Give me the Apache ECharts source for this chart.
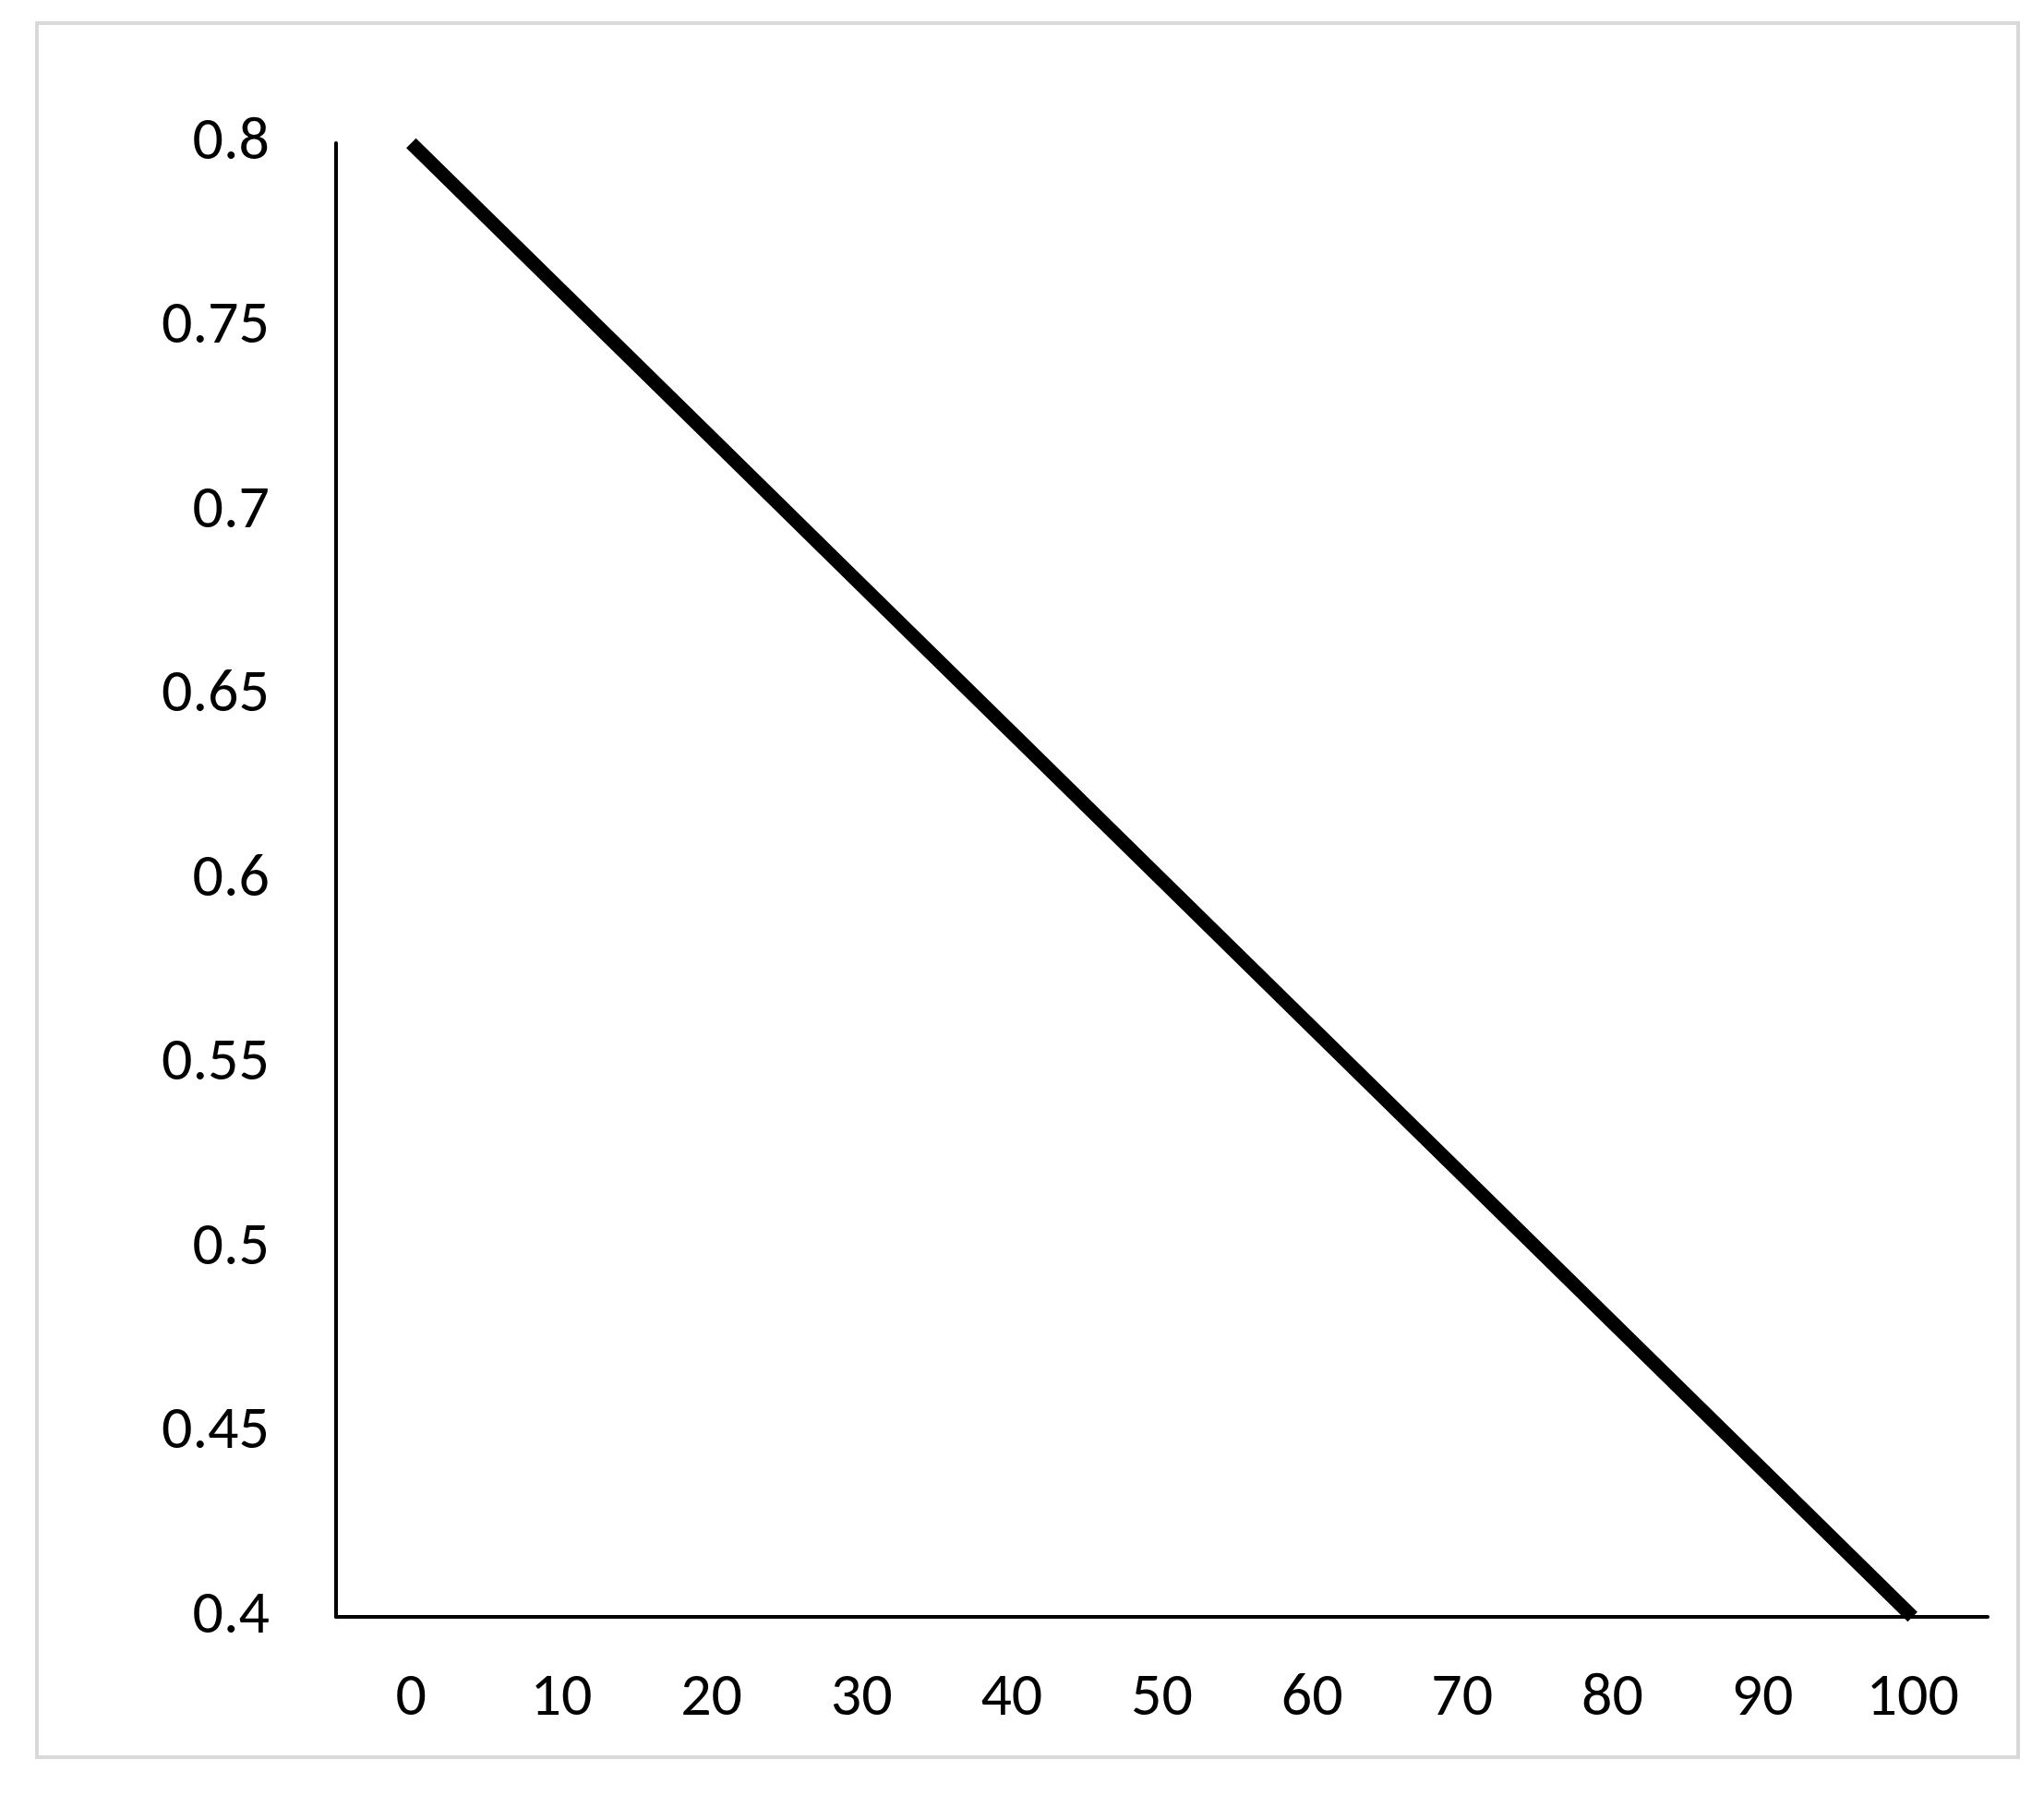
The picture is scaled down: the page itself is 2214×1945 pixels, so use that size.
<!DOCTYPE html>
<html><head><meta charset="utf-8">
<script src="https://cdn.jsdelivr.net/npm/echarts@6/dist/echarts.min.js"></script>
<style>html,body{margin:0;background:#fff}#c{width:2214px;height:1945px}</style>
</head><body><div id="c"></div>
<script>
// values
const xValues = [0, 10, 20, 30, 40, 50, 60, 70, 80, 90, 100];
const yValues = [0.8, 0.76, 0.72, 0.68, 0.64, 0.6, 0.56, 0.52, 0.48, 0.44, 0.4];
const xTicks = [0, 10, 20, 30, 40, 50, 60, 70, 80, 90, 100];

const chart = echarts.init(document.getElementById('c'));
chart.setOption({
    animation: false,
    graphic: [{
        type: 'rect', shape: {x: 40, y: 25, width: 2146, height: 1878},
        style: {fill: 'none', stroke: '#d9d9d9', lineWidth: 4}
    }],
    grid: {left: 364, right: 61, top: 155, bottom: 194},
    xAxis: {
        type: 'value', min: -5, max: 105,
        axisLine: {onZero: false, lineStyle: {color: '#000', width: 4}},
        axisTick: {show: false},
        splitLine: {show: false},
        axisLabel: {customValues: xTicks, fontSize: 66, color: '#000', margin: 56, fontFamily: 'Carlito, Lato, sans-serif'}
    },
    yAxis: {
        type: 'value', min: 0.4, max: 0.8, interval: 0.05,
        axisLine: {show: true, onZero: false, lineStyle: {color: '#000', width: 4}},
        axisTick: {show: false},
        splitLine: {show: false},
        axisLabel: {fontSize: 66, color: '#000', margin: 72, fontFamily: 'Carlito, Lato, sans-serif'}
    },
    series: [{
        type: 'line',
        data: xValues.map((x, i) => [x, yValues[i]]),
        showSymbol: false,
        lineStyle: {color: '#000', width: 15}
    }]
});
</script></body></html>
